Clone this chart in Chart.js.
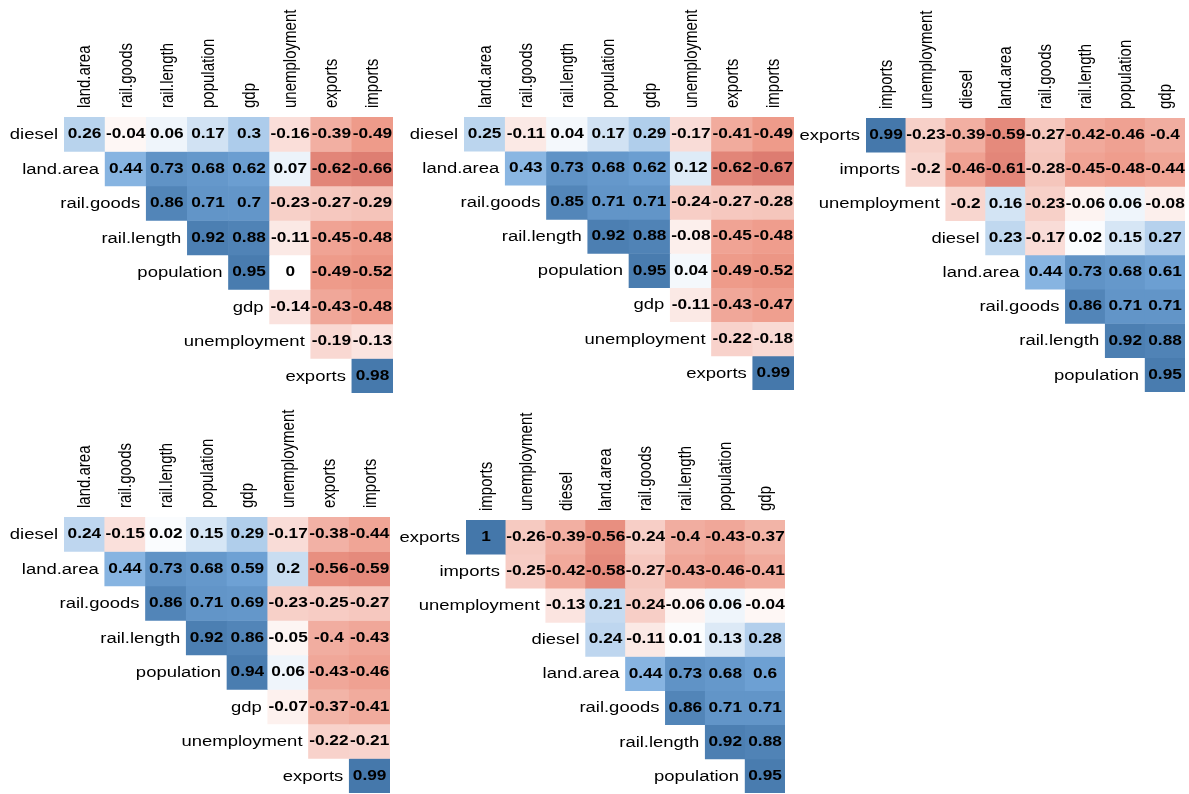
<!DOCTYPE html>
<html>
<head>
<meta charset="utf-8">
<script src="https://cdn.jsdelivr.net/npm/chart.js@4.4.1/dist/chart.umd.min.js"></script>
<style>
  html, body { margin: 0; padding: 0; background: #fff; }
  body { width: 1189px; height: 794px; position: relative; overflow: hidden; }
  .panel { position: absolute; }
</style>
</head>
<body>
<div class="panel"><canvas id="c1"></canvas></div>
<div class="panel"><canvas id="c2"></canvas></div>
<div class="panel"><canvas id="c3"></canvas></div>
<div class="panel"><canvas id="c4"></canvas></div>
<div class="panel"><canvas id="c5"></canvas></div>
<script>
// variable orderings (rows / columns of the upper triangle, diagonal dropped)
const rowsA = ['diesel', 'land.area', 'rail.goods', 'rail.length', 'population', 'gdp', 'unemployment', 'exports'];
const colsA = ['land.area', 'rail.goods', 'rail.length', 'population', 'gdp', 'unemployment', 'exports', 'imports'];
const rowsB = ['exports', 'imports', 'unemployment', 'diesel', 'land.area', 'rail.goods', 'rail.length', 'population'];
const colsB = ['imports', 'unemployment', 'diesel', 'land.area', 'rail.goods', 'rail.length', 'population', 'gdp'];

// correlations, row i starts at column i
const corr1 = [
    [0.26, -0.04, 0.06, 0.17, 0.3, -0.16, -0.39, -0.49],
    [0.44, 0.73, 0.68, 0.62, 0.07, -0.62, -0.66],
    [0.86, 0.71, 0.7, -0.23, -0.27, -0.29],
    [0.92, 0.88, -0.11, -0.45, -0.48],
    [0.95, 0, -0.49, -0.52],
    [-0.14, -0.43, -0.48],
    [-0.19, -0.13],
    [0.98]
];
const corr2 = [
    [0.25, -0.11, 0.04, 0.17, 0.29, -0.17, -0.41, -0.49],
    [0.43, 0.73, 0.68, 0.62, 0.12, -0.62, -0.67],
    [0.85, 0.71, 0.71, -0.24, -0.27, -0.28],
    [0.92, 0.88, -0.08, -0.45, -0.48],
    [0.95, 0.04, -0.49, -0.52],
    [-0.11, -0.43, -0.47],
    [-0.22, -0.18],
    [0.99]
];
const corr3 = [
    [0.99, -0.23, -0.39, -0.59, -0.27, -0.42, -0.46, -0.4],
    [-0.2, -0.46, -0.61, -0.28, -0.45, -0.48, -0.44],
    [-0.2, 0.16, -0.23, -0.06, 0.06, -0.08],
    [0.23, -0.17, 0.02, 0.15, 0.27],
    [0.44, 0.73, 0.68, 0.61],
    [0.86, 0.71, 0.71],
    [0.92, 0.88],
    [0.95]
];
const corr4 = [
    [0.24, -0.15, 0.02, 0.15, 0.29, -0.17, -0.38, -0.44],
    [0.44, 0.73, 0.68, 0.59, 0.2, -0.56, -0.59],
    [0.86, 0.71, 0.69, -0.23, -0.25, -0.27],
    [0.92, 0.86, -0.05, -0.4, -0.43],
    [0.94, 0.06, -0.43, -0.46],
    [-0.07, -0.37, -0.41],
    [-0.22, -0.21],
    [0.99]
];
const corr5 = [
    [1, -0.26, -0.39, -0.56, -0.24, -0.4, -0.43, -0.37],
    [-0.25, -0.42, -0.58, -0.27, -0.43, -0.46, -0.41],
    [-0.13, 0.21, -0.24, -0.06, 0.06, -0.04],
    [0.24, -0.11, 0.01, 0.13, 0.28],
    [0.44, 0.73, 0.68, 0.6],
    [0.86, 0.71, 0.71],
    [0.92, 0.88],
    [0.95]
];

// grid boxes on the page
const PAD_L = 70, PAD_T = 115;
const panels = [
    { id: 'c1', rows: rowsA, cols: colsA, corr: corr1, left: 64, top: 117, w: 329, h: 276 },
    { id: 'c2', rows: rowsA, cols: colsA, corr: corr2, left: 464, top: 117, w: 330, h: 273 },
    { id: 'c3', rows: rowsB, cols: colsB, corr: corr3, left: 866, top: 118, w: 319, h: 274 },
    { id: 'c4', rows: rowsA, cols: colsA, corr: corr4, left: 64, top: 517, w: 326, h: 276 },
    { id: 'c5', rows: rowsB, cols: colsB, corr: corr5, left: 466, top: 520, w: 319, h: 273 }
];

const FONT = '"Liberation Sans", Arial, sans-serif';
const SX = 1.19; // text is drawn a bit wider than tall, like the cells

// red - white - blue ramp
const ramp = ['#BB4444', '#EE9988', '#FFFFFF', '#77AADD', '#4477AA'];
function hexRgb(h) {
    return [1, 3, 5].map(k => parseInt(h.substr(k, 2), 16));
}
function corrColor(v) {
    const t = (v + 1) / 2 * (ramp.length - 1);
    const i = Math.min(Math.floor(t), ramp.length - 2);
    const f = t - i;
    const a = hexRgb(ramp[i]), b = hexRgb(ramp[i + 1]);
    const c = a.map((x, k) => Math.round(x + (b[k] - x) * f));
    return 'rgb(' + c.join(',') + ')';
}

function wideText(ctx, text, x, y, align, font, upright) {
    ctx.save();
    ctx.translate(x, y);
    ctx.scale(SX, 1);
    if (upright) ctx.rotate(-Math.PI / 2);
    ctx.font = font;
    ctx.textAlign = align;
    ctx.textBaseline = 'middle';
    ctx.fillText(text, 0, 0);
    ctx.restore();
}

// coefficients in the cells, row names beside the diagonal, column names on top
const corrLabels = {
    id: 'corrLabels',
    afterDatasetsDraw(chart) {
        const ctx = chart.ctx;
        const area = chart.chartArea;
        ctx.save();
        ctx.fillStyle = '#000';
        chart.data.datasets.forEach((ds, i) => {
            const meta = chart.getDatasetMeta(i);
            ds.corr.forEach((v, j) => {
                if (v === null) return;
                const bar = meta.data[j];
                wideText(ctx, String(v), bar.x, (bar.y + bar.base) / 2, 'center', 'bold 14.5px ' + FONT);
            });
            const first = meta.data[i];
            wideText(ctx, ds.label, first.x - first.width / 2 - 6, (first.y + first.base) / 2 + 0.5, 'right', '15.5px ' + FONT);
        });
        const top = chart.getDatasetMeta(0);
        chart.data.labels.forEach((name, j) => {
            wideText(ctx, name, top.data[j].x + 1, area.top - 9, 'left', '15px ' + FONT, true);
        });
        ctx.restore();
    }
};

panels.forEach(p => {
    const canvas = document.getElementById(p.id);
    const box = canvas.parentNode;
    box.style.left = (p.left - PAD_L) + 'px';
    box.style.top = (p.top - PAD_T) + 'px';
    canvas.width = p.w + PAD_L;
    canvas.height = p.h + PAD_T;

    const datasets = p.rows.map((name, i) => {
        const corr = p.cols.map((c, j) => j >= i ? p.corr[i][j - i] : null);
        return {
            label: name,
            corr: corr,
            data: corr.map(v => v === null ? null : [i, i + 1]),
            backgroundColor: corr.map(v => v === null ? 'rgba(0,0,0,0)' : corrColor(v)),
            borderWidth: 0,
            grouped: false,
            categoryPercentage: 1,
            barPercentage: 1
        };
    });

    new Chart(canvas, {
        type: 'bar',
        data: { labels: p.cols, datasets: datasets },
        options: {
            responsive: false,
            animation: false,
            layout: { padding: { left: PAD_L, top: PAD_T, right: 0, bottom: 0 } },
            scales: {
                x: { type: 'category', offset: true, display: false },
                y: { type: 'linear', min: 0, max: 8, reverse: true, display: false }
            },
            plugins: {
                legend: { display: false },
                tooltip: { enabled: false }
            }
        },
        plugins: [corrLabels]
    });
});
</script>
</body>
</html>
